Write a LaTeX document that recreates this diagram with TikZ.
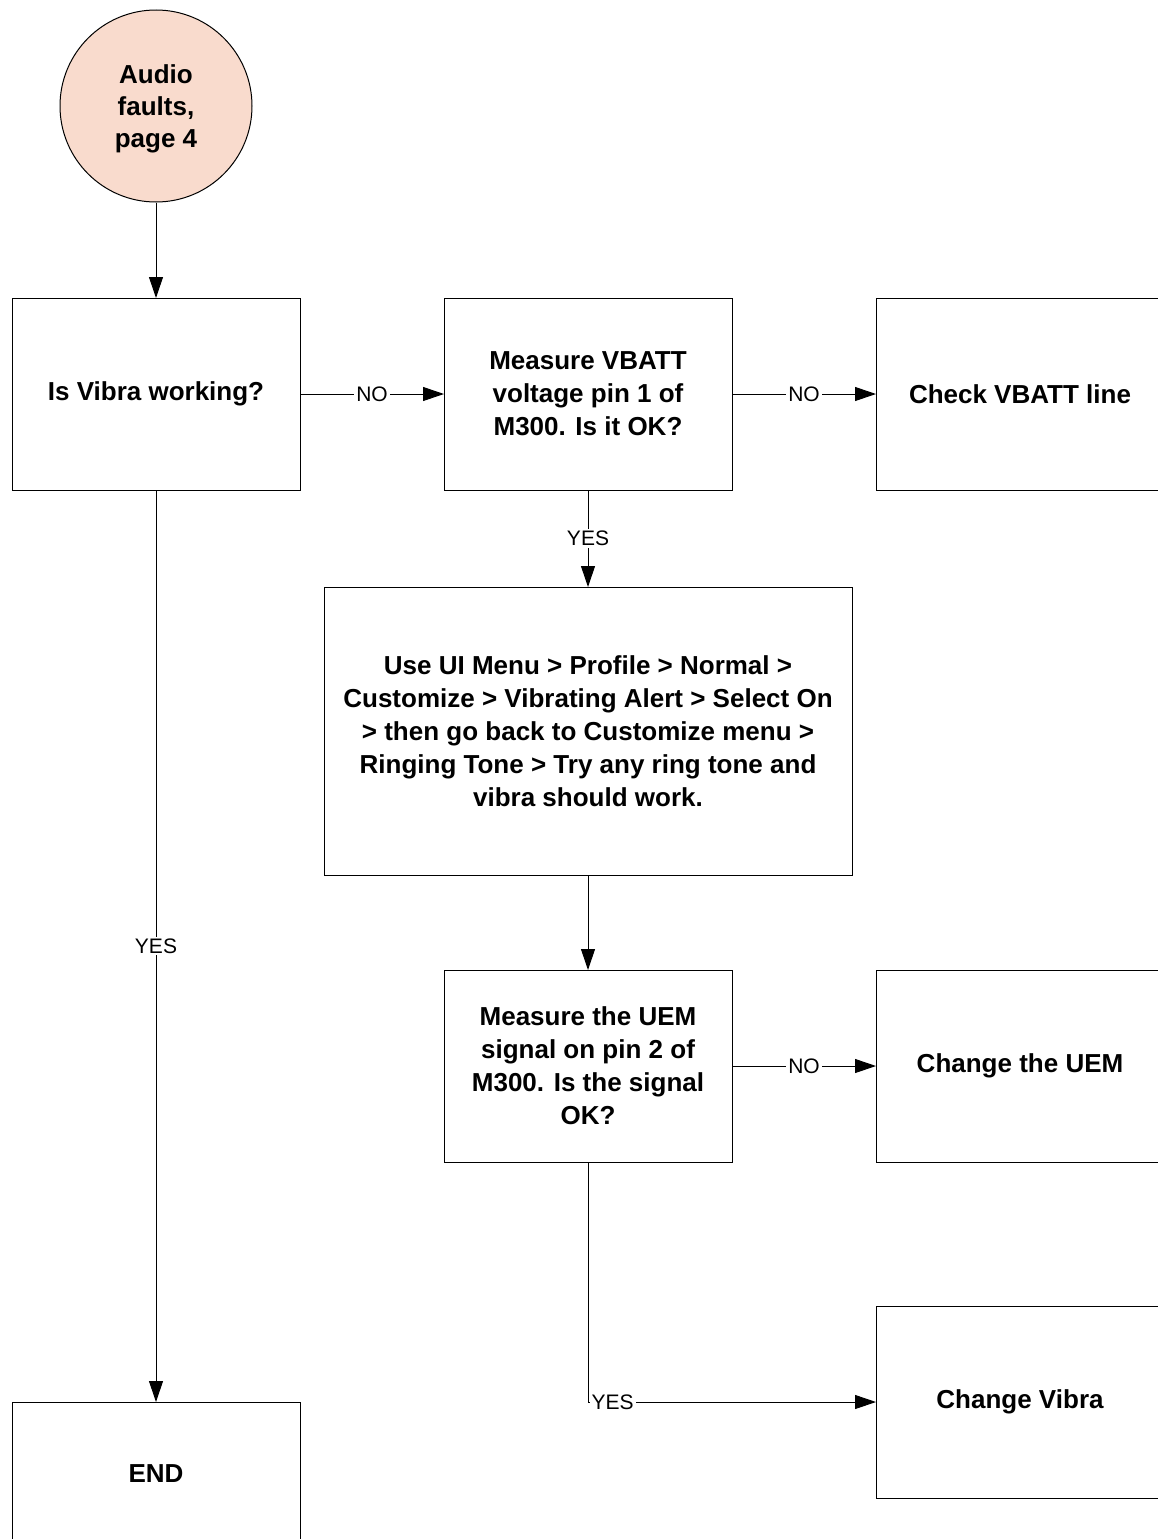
\documentclass[tikz,border=0pt]{standalone}
\usepackage{fontspec}
\setmainfont{Liberation Sans}
\usetikzlibrary{arrows.meta}
\definecolor{startfill}{RGB}{249,219,205}
\tikzset{
  box/.style={draw=black, line width=1pt, fill=white, inner sep=0pt, outer sep=0pt,
    minimum width=288pt, minimum height=192pt, align=center,
    font=\fontsize{26}{33}\selectfont\bfseries},
  startnode/.style={circle, draw=black, line width=1pt, fill=startfill, inner sep=0pt,
    minimum size=192pt, align=center, font=\fontsize{26}{32}\selectfont\bfseries},
  flow/.style={line width=1pt, -{Triangle[length=21pt,width=14pt]}},
  lbl/.style={fill=white, inner sep=2pt, font=\fontsize{21}{24}\selectfont}
}
\begin{document}
\begin{tikzpicture}[x=1pt, y=-1pt]
  \useasboundingbox (0,0) rectangle (1158,1539);
  \clip (0,0) rectangle (1158,1539);
  \fill[white] (0,0) rectangle (1158,1539);

  % nodes of the chart
  \node[startnode] (start) at (156,106)
    {\raisebox{-3pt}[\height][\depth]{\parbox{150pt}{\centering Audio\\faults,\\page 4}}};
  \node[box] (vibra) at (156,394) {Is Vibra working?};
  \node[box] (vbatt) at (588,394) {Measure VBATT\\voltage pin 1 of\\M300. Is it OK?};
  \node[box] (chkline) at (1020,394) {Check VBATT line};
  \node[box, minimum width=528pt, minimum height=288pt] (menu) at (588,731)
    {Use UI Menu > Profile > Normal >\\Customize > Vibrating Alert > Select On\\> then go back to Customize menu >\\Ringing Tone > Try any ring tone and\\vibra should work.};
  \node[box] (uem) at (588,1066) {Measure the UEM\\signal on pin 2 of\\M300. Is the signal\\OK?};
  \node[box] (chguem) at (1020,1066) {Change the UEM};
  \node[box] (chgvibra) at (1020,1402) {Change Vibra};
  \node[box, minimum height=144pt] (endnode) at (156,1474) {END};

  % connectors
  \draw[flow] (start) -- (vibra);
  \draw[flow] (vibra) -- node[lbl] {NO} (vbatt);
  \draw[flow] (vbatt) -- node[lbl] {NO} (chkline);
  \draw[flow] (vbatt) -- node[lbl] {YES} (menu);
  \draw[flow] (menu) -- (uem);
  \draw[flow] (uem) -- node[lbl] {NO} (chguem);
  \draw[flow] (vibra) -- node[lbl] {YES} (endnode);
  \draw[flow] (uem.south) |- node[lbl, anchor=west, pos=0.5, xshift=1pt] {YES} (chgvibra.west);
\end{tikzpicture}
\end{document}
